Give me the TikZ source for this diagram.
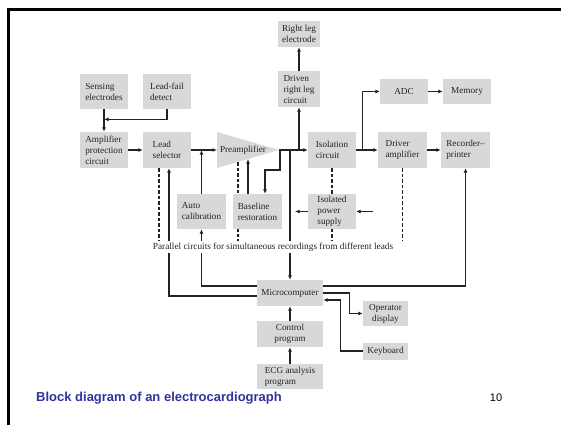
\documentclass[tikz,border=0pt]{standalone}
\usepackage{fontspec}
\setmainfont{Liberation Serif}
\setsansfont{Liberation Sans}
\usetikzlibrary{arrows.meta,calc}
\definecolor{boxgray}{RGB}{214,216,218}
\definecolor{titleblue}{RGB}{51,51,160}
\definecolor{linec}{RGB}{35,35,35}
\begin{document}
\begin{tikzpicture}[x=1pt,y=-1pt,
  blk/.style={fill=boxgray, inner sep=1pt, font=\fontsize{9.2}{11}\selectfont, align=left, text=linec},
  blkc/.style={blk, align=center},
  conn/.style={draw=linec, line width=1.2pt, -{Latex[length=4.5pt,width=4pt]}},
  dsh/.style={draw=linec, line width=1.1pt, dash pattern=on 3.5pt off 2pt}]
\useasboundingbox (0,0) rectangle (561,425);
\fill[white] (0,0) rectangle (561,425);
\draw[line width=3pt, black] (8,425) -- (8,10) -- (561,10);

% coordinates
\coordinate (prein) at (217,150);
\coordinate (preout) at (279,150);
\coordinate (preb) at (248,159);
\coordinate (predt) at (238,162);
\coordinate (predb) at (238,242);
\coordinate (psout) at (295,211.5);
\coordinate (psin) at (373,211.5);

% dashed lines (behind boxes)
\draw[dsh] (159,168) -- (159,241);
\draw[dsh] (predt) -- (predb);
\draw[dsh] (332,168) -- (332,242);
\draw[dsh] (402.5,168) -- (402.5,240);

% preamplifier triangle
\fill[boxgray] (217,132) -- (279,150) -- (217,168) -- cycle;
\node[font=\fontsize{9.2}{11}\selectfont, text=linec, inner sep=0pt] (pre) at (243,150) {Preamplifier};

% boxes
\node[blkc, minimum width=42pt, minimum height=26pt] (rle) at (299,34) {Right leg\\electrode};
\node[blk, minimum width=42pt, minimum height=36pt] (drl) at (299,89) {Driven\\right leg\\circuit};
\node[blk, minimum width=48pt, minimum height=35pt] (se) at (104,91.5) {Sensing\\electrodes};
\node[blk, minimum width=48pt, minimum height=35pt] (lfd) at (167,91.5) {Lead-fail\\detect};
\node[blk, minimum width=48pt, minimum height=25pt] (adc) at (404,91.5) {ADC};
\node[blk, minimum width=48pt, minimum height=25pt] (mem) at (467,91.5) {Memory};
\node[blk, minimum width=48pt, minimum height=36pt] (app) at (104,150) {Amplifier\\protection\\circuit};
\node[blk, minimum width=48pt, minimum height=36pt] (ls) at (167,150) {Lead\\selector};
\node[blk, minimum width=48pt, minimum height=36pt] (iso) at (332,150) {Isolation\\circuit};
\node[blk, minimum width=49pt, minimum height=36pt] (drv) at (402.5,150) {Driver\\amplifier};
\node[blk, minimum width=49pt, minimum height=36pt] (rec) at (465.5,150) {Recorder--\\printer};
\node[blk, minimum width=49pt, minimum height=35pt] (ac) at (201.5,211.5) {Auto\\calibration};
\node[blk, minimum width=49pt, minimum height=35pt] (bl) at (257.5,211.5) {Baseline\\restoration};
\node[blk, minimum width=48pt, minimum height=35pt] (ips) at (332,211.5) {Isolated\\power\\supply};
\node[blkc, minimum width=66pt, minimum height=26pt] (mc) at (290,293) {Microcomputer};
\node[blkc, minimum width=45pt, minimum height=25pt] (od) at (385.5,313.5) {Operator\\display};
\node[blkc, minimum width=45pt, minimum height=17pt] (kb) at (385.5,351) {Keyboard};
\node[blkc, minimum width=66pt, minimum height=26pt] (cp) at (290,334) {Control\\program};
\node[blk, minimum width=66pt, minimum height=25pt] (ecg) at (290,376.5) {ECG analysis\\program};

% connectors
\draw[conn] (se.south) -- (app.north);
\draw[conn] (lfd.south) |- ($(se.south)!0.45!(app.north)$);
\draw[conn] (app.east) -- (ls.west);
\draw[conn] (ls.east) -- (prein);
\draw[conn] (ac.north) -- (ac.north |- ls.east);
\draw[conn] (preout) -- (iso.west);
\draw[conn] (drl.south |- iso.west) -- (drl.south);
\draw[conn] (drl.north) -- (rle.south);
\draw[conn] (preout) -- ++(1,0) -- ++(0,20) -| ($(bl.north)+(7.5,0)$);
\draw[conn] ($(bl.north)+(-9.5,0)$) -- (preb);
\draw[conn] (mc.north |- iso.west) -- (mc.north);
\draw[conn] (iso.east) -- (drv.west);
\draw[conn] ($(iso.east)!0.3!(drv.west)$) |- (adc.west);
\draw[conn] (adc.east) -- (mem.west);
\draw[conn] (drv.east) -- (rec.west);
\draw[conn] (psin) -- (ips.east);
\draw[conn] (ips.west) -- (psout);
\draw[conn] ($(mc.west)+(0,-7)$) -| (ac.south);
\draw[conn] ($(mc.west)+(0,3)$) -| ($(ls.south)+(2,0)$);
\draw[conn] ($(mc.east)+(0,-7)$) -| (rec.south);
\draw[conn] (mc.east) -- ++(26,0) |- (od.west);
\draw[conn] (kb.west) -- ++(-22,0) |- ($(mc.east)+(0,7)$);
\draw[conn] (cp.north) -- (mc.south);
\draw[conn] (ecg.north) -- (cp.south);

% parallel text
\node[fill=white, inner sep=1.5pt, font=\fontsize{9.3}{11}\selectfont, text=linec] (par) at (273,247) {Parallel circuits for simultaneous recordings from different leads};

% title and page number
\node[anchor=west, inner sep=0pt, font=\sffamily\bfseries\fontsize{13}{15}\selectfont, text=titleblue] (title) at (36,398) {Block diagram of an electrocardiograph};
\node[inner sep=0pt, font=\sffamily\fontsize{11}{13}\selectfont] (pg) at (496,398) {10};
\end{tikzpicture}
\end{document}
